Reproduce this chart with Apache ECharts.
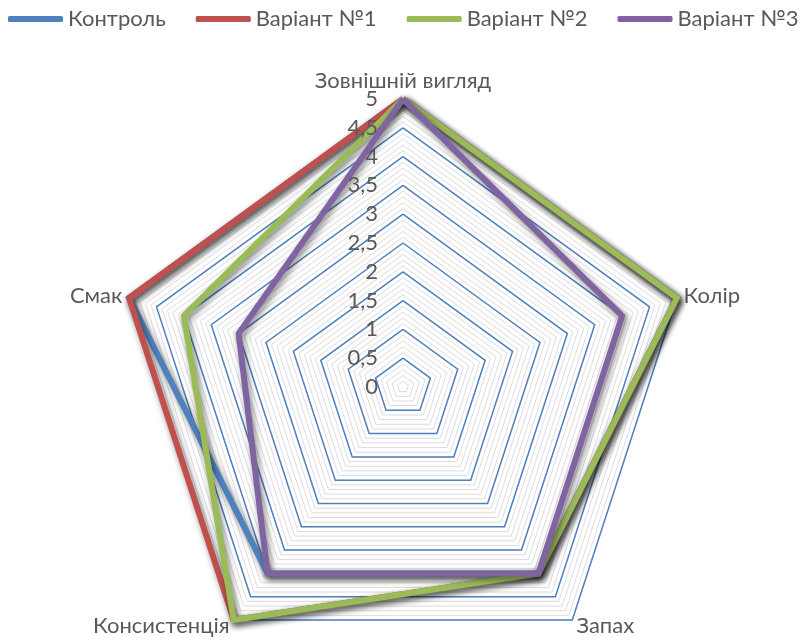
<!DOCTYPE html>
<html>
<head>
<meta charset="utf-8">
<script src="https://cdn.jsdelivr.net/npm/echarts@6/dist/echarts.min.js"></script>
<style>
  html, body { margin: 0; padding: 0; background: #fff; }
  #radar { width: 803px; height: 637px; }
</style>
</head>
<body>
<div id="radar"></div>
<script>
// показники (в порядку Excel, за годинниковою стрілкою від верху)
const categories = ['Зовнішній вигляд', 'Колір', 'Запах', 'Консистенція', 'Смак']
const seriesNames = ['Контроль', 'Варіант №1', 'Варіант №2', 'Варіант №3']
const control = [5, 5, 4, 4, 5]
const variant1 = [5, 5, 4, 5, 5]
const variant2 = [5, 5, 4, 5, 4]
const variant3 = [5, 4, 4, 4, 3]
const colors = ['#4F81BD', '#C0504D', '#9BBB59', '#8064A2']
const maxValue = 5

// echarts малює радар проти годинникової стрілки, тому переставляємо
const order = [0, 4, 3, 2, 1]
const reorder = arr => order.map(i => arr[i])

const textColor = '#595959'
const font = 'Lato, "Open Sans", sans-serif'

const indicators = reorder(categories).map(name => ({name: name, min: 0, max: maxValue}))
// підписи шкали тільки на верхній осі
const indicatorsLabels = indicators.map((ind, i) => i === 0 ? Object.assign({}, ind, {
  axisLabel: {
    show: true,
    color: textColor,
    fontSize: 22,
    fontFamily: font,
    margin: 25,
    formatter: v => String(v).replace('.', ',')
  }
}) : ind)

const center = [403, 387]
const radius = 288

const option = {
  animation: false,
  legend: {
    top: 8,
    left: 8,
    padding: 0,
    itemWidth: 55,
    itemHeight: 6,
    itemGap: 30,
    icon: 'roundRect',
    textStyle: {color: textColor, fontSize: 22, fontFamily: font},
    data: seriesNames
  },
  radar: [
    {
      // допоміжна сітка
      indicator: indicators,
      center: center,
      radius: radius,
      splitNumber: 50,
      axisName: {show: false},
      axisLine: {show: false},
      axisTick: {show: false},
      axisLabel: {show: false},
      splitArea: {show: false},
      splitLine: {lineStyle: {color: '#dcdcdc', width: 1}}
    },
    {
      indicator: indicators,
      center: center,
      radius: radius,
      splitNumber: 10,
      nameGap: 7,
      axisName: {color: textColor, fontSize: 22, fontFamily: font},
      axisLine: {show: false},
      axisTick: {show: false},
      axisLabel: {show: false},
      splitArea: {show: false},
      splitLine: {lineStyle: {color: '#4F81BD', width: 1.5}}
    },
    {
      // підписи поверх ліній
      z: 10,
      indicator: indicatorsLabels,
      center: center,
      radius: radius,
      splitNumber: 10,
      axisName: {show: false},
      axisLine: {show: false},
      axisTick: {show: false},
      axisLabel: {show: false},
      splitArea: {show: false},
      splitLine: {show: false}
    }
  ],
  series: [control, variant1, variant2, variant3].map((vals, i) => ({
    name: seriesNames[i],
    type: 'radar',
    radarIndex: 1,
    symbol: 'none',
    itemStyle: {color: colors[i]},
    lineStyle: {
      color: colors[i],
      width: 6,
      join: 'miter',
      shadowColor: 'rgba(0, 0, 0, 0.5)',
      shadowBlur: 6,
      shadowOffsetX: 2,
      shadowOffsetY: 3
    },
    data: [{name: seriesNames[i], value: reorder(vals)}]
  }))
}

let radarChart = echarts.init(document.getElementById('radar'))
radarChart.setOption(option)
</script>
</body>
</html>
